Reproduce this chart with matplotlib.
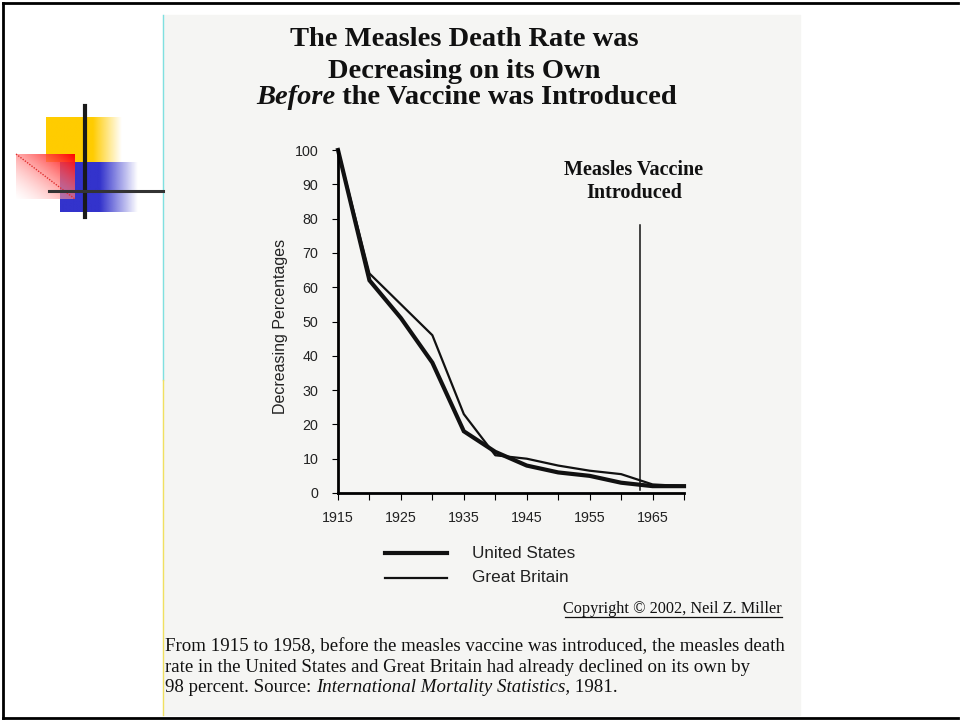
import matplotlib
matplotlib.use('Agg')
import matplotlib.pyplot as plt
import numpy as np

# data
years = [1915, 1920, 1925, 1930, 1935, 1940, 1945, 1950, 1955, 1960, 1965, 1970]
us_rate = [100, 62, 51, 38, 18, 12, 8, 6, 5, 3, 2, 2]
gb_rate = [100, 64, 55, 46, 23, 11, 10, 8, 6.5, 5.5, 2.5, 2]
vaccine_year = 1963
yticks = list(range(0, 101, 10))
xlabels = [1915, 1925, 1935, 1945, 1955, 1965]

title_lines = ['The Measles Death Rate was', 'Decreasing on its Own']
caption = ['From 1915 to 1958, before the measles vaccine was introduced, the measles death',
           'rate in the United States and Great Britain had already declined on its own by']

W, H = 960, 721
fig = plt.figure(figsize=(W / 100, H / 100), dpi=100)
renderer = fig.canvas.get_renderer()

# background axes in pixel coordinates (slide + scanned page)
bg = fig.add_axes([0, 0, 1, 1])
bg.set_xlim(0, W)
bg.set_ylim(H, 0)
bg.axis('off')

# scanned page
bg.add_patch(plt.Rectangle((163, 15), 637, 700, color='#f5f5f3', zorder=0))
bg.plot([163, 163], [15, 380], color='#7fe0e0', lw=1, zorder=1)
bg.plot([163, 163], [380, 715], color='#f0e060', lw=1, zorder=1)

# slide frame
bg.plot([3, 3], [3, 718], color='black', lw=2)
bg.plot([3, 958], [3, 3], color='black', lw=2)
bg.plot([3, 958], [718, 718], color='black', lw=2)


# logo with fading squares
def fade_block(x0, x1, xf, y0, y1, rgb):
    n = 200
    xs = np.linspace(x0, xf, n)
    alpha = np.clip((xf - xs) / (xf - x1), 0, 1)
    img = np.zeros((1, n, 4))
    img[0, :, :3] = rgb
    img[0, :, 3] = alpha
    bg.imshow(img, extent=(x0, xf, y1, y0), aspect='auto', zorder=2, interpolation='bilinear')


fade_block(46, 93, 122, 117, 162, (1.0, 0.8, 0.0))
fade_block(60, 100, 138, 162, 212, (0.2, 0.2, 0.8))

n = 100
gx, gy = np.meshgrid(np.linspace(0, 1, n), np.linspace(0, 1, n))
red = np.zeros((n, n, 4))
red[..., 0] = 1.0
t = np.clip((gx + (1 - gy)) / 2, 0, 1)
red[..., 1] = 1 - t
red[..., 2] = 1 - t
red[..., 3] = 0.35 + 0.65 * t
bg.imshow(red, extent=(16, 75, 199, 154), aspect='auto', zorder=3, interpolation='bilinear')
bg.plot([16, 75], [154, 199], color='#e03030', lw=1, ls=(0, (1, 1)), zorder=4)
bg.plot([85, 85], [106, 217], color='#1a1a1a', lw=3, zorder=5)
bg.plot([49, 163], [190.5, 190.5], color='#333333', lw=2.2, zorder=5)


def text_run(x, y, parts, **kw):
    # draw pieces of one line side by side: parts = [(text, style), ...]
    for s, style in parts:
        t = bg.text(x, y, s, ha='left', va='center', fontstyle=style, **kw)
        bb = t.get_window_extent(renderer)
        x += bb.width


serif = 'Liberation Serif'
ink = '#111111'

# title
for i, line in enumerate(title_lines):
    bg.text(464, 40 + i * 31, line, ha='center', va='center', family=serif,
            fontweight='bold', fontsize=20.5, color=ink)
text_run(256, 97, [('Before', 'italic'), (' the Vaccine was Introduced', 'normal')],
         family=serif, fontweight='bold', fontsize=20.5, color=ink)

# vaccine note
bg.text(634, 170, 'Measles Vaccine', ha='center', va='center', family=serif,
        fontweight='bold', fontsize=14.5, color=ink)
bg.text(634, 193, 'Introduced', ha='center', va='center', family=serif,
        fontweight='bold', fontsize=14.5, color=ink)

# y label
bg.text(281, 326, 'Decreasing Percentages', rotation=90, ha='center', va='center',
        family='Liberation Sans', fontsize=11.5, color='#222222')

# legend
bg.plot([385, 447], [553, 553], color=ink, lw=3)
bg.plot([385, 447], [578, 578], color=ink, lw=1.6)
bg.text(472, 553, 'United States', ha='left', va='center',
        family='Liberation Sans', fontsize=12.3, color='#222222')
bg.text(472, 578, 'Great Britain', ha='left', va='center',
        family='Liberation Sans', fontsize=12.3, color='#222222')

# copyright
bg.text(782, 609, 'Copyright \u00a9 2002, Neil Z. Miller', ha='right', va='center',
        family=serif, fontsize=11.7, color=ink)
bg.plot([565, 782], [617, 617], color=ink, lw=0.9)

# caption
for i, line in enumerate(caption):
    bg.text(165, 647 + i * 21, line, ha='left', va='center', family=serif,
            fontsize=13.6, color=ink)
text_run(165, 688, [('98 percent. Source: ', 'normal'),
                    ('International Mortality Statistics,', 'italic'),
                    (' 1981.', 'normal')],
         family=serif, fontsize=13.6, color=ink)

# chart axes
ax = fig.add_axes([338 / W, 1 - 493 / H, 346 / W, 343 / H])
ax.patch.set_alpha(0)
ax.set_xlim(1915, 1970)
ax.set_ylim(0, 100)
ax.plot(years, us_rate, color=ink, lw=3, solid_joinstyle='miter', clip_on=False)
ax.plot(years, gb_rate, color=ink, lw=1.6, clip_on=False)
ax.plot([vaccine_year, vaccine_year], [1, 78], color=ink, lw=1.1)

for side in ['top', 'right']:
    ax.spines[side].set_visible(False)
ax.spines['left'].set_linewidth(2)
ax.spines['bottom'].set_linewidth(2)

ax.set_yticks(yticks)
ax.set_yticklabels([str(v) for v in yticks])
ax.set_xticks(list(range(1915, 1971, 5)))
ax.set_xticklabels([str(y) if y in xlabels else '' for y in range(1915, 1971, 5)])
ax.tick_params(axis='y', length=4, width=0.8, pad=10, labelsize=10.3)
ax.tick_params(axis='x', length=5, width=0.8, pad=8, labelsize=10.3)
for lab in ax.get_xticklabels() + ax.get_yticklabels():
    lab.set_family('Liberation Sans')
    lab.set_color('#222222')

fig.savefig('out.png', dpi=100)
